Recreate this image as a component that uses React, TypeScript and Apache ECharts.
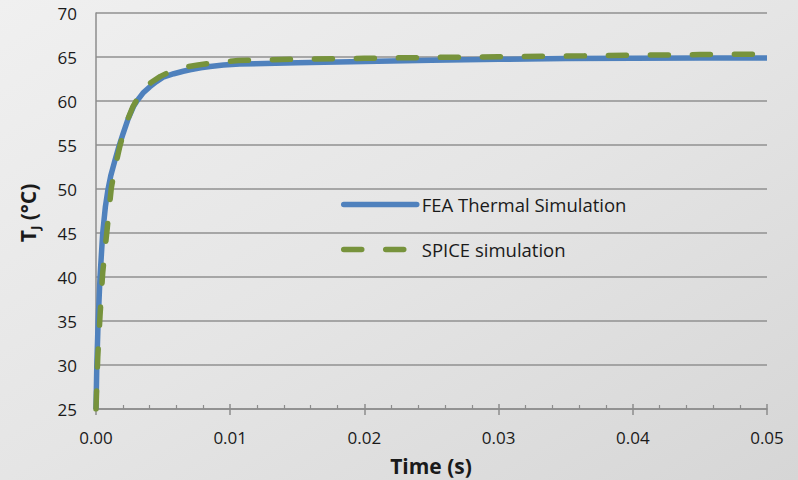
import React, { useEffect, useRef } from "react";
import * as echarts from "echarts";

const feaTime = [0, 0.00006, 0.00016, 0.0003, 0.0005, 0.0007, 0.0009, 0.0011, 0.0014, 0.0017, 0.002, 0.0024, 0.0028, 0.0031, 0.0035, 0.004, 0.0045, 0.005, 0.0058, 0.0065, 0.007, 0.0078, 0.0085, 0.0095, 0.0107, 0.015, 0.02, 0.025, 0.03, 0.035, 0.04, 0.045, 0.05];
const feaTemp = [25, 30, 35, 40, 45, 48, 50, 51.5, 53.2, 54.8, 56.2, 58.0, 59.4, 60.1, 60.9, 61.6, 62.2, 62.7, 63.1, 63.38, 63.55, 63.78, 63.93, 64.08, 64.2, 64.35, 64.5, 64.62, 64.74, 64.82, 64.86, 64.88, 64.9];

const spiceTime = [0, 0.00013, 0.0003, 0.0005, 0.00082, 0.00114, 0.0014, 0.00177, 0.0022, 0.00276, 0.0035, 0.0041, 0.0048, 0.0054, 0.006, 0.0068, 0.0076, 0.009, 0.0106, 0.015, 0.02, 0.025, 0.03, 0.035, 0.04, 0.045, 0.05];
const spiceTemp = [25, 30.9, 35.6, 40.5, 45.3, 50.1, 52.3, 54.8, 57.3, 59.4, 61.3, 62.1, 62.8, 63.25, 63.6, 63.9, 64.1, 64.4, 64.6, 64.75, 64.85, 64.95, 65.03, 65.1, 65.2, 65.27, 65.33];

const seriesNames = ["FEA Thermal Simulation", "SPICE simulation"];
const xTitle = "Time (s)";

const FONT = "'Open Sans', 'Noto Sans', sans-serif";
const TEXT = "#1a1a1a";
const BLUE = "#4f81bd";
const GREEN = "#77933c";

export default function App() {
  const ref = useRef<HTMLDivElement>(null);
  useEffect(() => {
    if (!ref.current) return;
    const chart = echarts.init(ref.current, undefined, { renderer: "svg" });
    const fea = feaTime.map((t, i) => [t, feaTemp[i]]);
    const spice = spiceTime.map((t, i) => [t, spiceTemp[i]]);
    const xCommon = {
      type: "value" as const,
      min: 0,
      max: 0.05,
      interval: 0.01,
    };
    chart.setOption({
      animation: false,
      backgroundColor: new echarts.graphic.LinearGradient(0, 0, 1, 1, [
        { offset: 0, color: "#f0f0f0" },
        { offset: 0.5, color: "#e5e5e5" },
        { offset: 1, color: "#d6d6d6" },
      ]),
      textStyle: { fontFamily: FONT },
      grid: { left: 96, right: 31, top: 13, bottom: 71, containLabel: false },
      xAxis: [
        {
          ...xCommon,
          position: "bottom",
          axisLine: { show: true, lineStyle: { color: "#8c8c8c", width: 1.5 } },
          axisTick: { show: true, inside: true, length: 5, lineStyle: { color: "#8c8c8c", width: 1.5 } },
          minorTick: { show: true, splitNumber: 5, length: 4, lineStyle: { color: "#8c8c8c", width: 1.2 } },
          splitLine: { show: false },
          axisLabel: {
            margin: 20,
            fontSize: 17,
            color: TEXT,
            fontFamily: FONT,
            formatter: (v: number) => v.toFixed(2),
          },
        },
        {
          ...xCommon,
          position: "bottom",
          offset: 0,
          axisLine: { show: false },
          axisTick: { show: true, inside: false, length: 6, lineStyle: { color: "#8c8c8c", width: 1.5 } },
          axisLabel: { show: false },
          splitLine: { show: false },
        },
      ],
      yAxis: {
        type: "value",
        min: 25,
        max: 70,
        interval: 5,
        axisLine: { show: true, lineStyle: { color: "#8c8c8c", width: 1.5 } },
        axisTick: { show: false },
        splitLine: { show: true, lineStyle: { color: "#909090", width: 1.5 } },
        axisLabel: { margin: 19, fontSize: 17, color: TEXT, fontFamily: FONT },
      },
      legend: {
        orient: "vertical",
        left: 336,
        top: 190,
        itemWidth: 73,
        itemHeight: 14,
        itemGap: 26,
        itemStyle: { opacity: 0 },
        lineStyle: { width: 5.5, cap: "round" },
        textStyle: { fontSize: 18.5, color: TEXT, fontFamily: FONT },
        data: seriesNames,
      },
      graphic: [
        {
          type: "text",
          x: 28,
          y: 213,
          rotation: Math.PI / 2,
          style: {
            text: "{a|T}{b|J}{a| (°C)}",
            align: "center",
            verticalAlign: "middle",
            fill: TEXT,
            rich: {
              a: { fontSize: 21, fontWeight: "bold", fontFamily: FONT, fill: TEXT },
              b: { fontSize: 13, fontWeight: "bold", fontFamily: FONT, fill: TEXT, padding: [13, 0, 0, 0] },
            },
          },
        },
        {
          type: "text",
          x: 431,
          y: 466,
          style: {
            text: xTitle,
            align: "center",
            verticalAlign: "middle",
            fontSize: 21,
            fontWeight: "bold",
            fontFamily: FONT,
            fill: TEXT,
          },
        },
      ],
      series: [
        {
          name: seriesNames[0],
          type: "line",
          data: fea,
          showSymbol: false,
          symbol: "none",
          smooth: false,
          color: BLUE,
          lineStyle: { color: BLUE, width: 5.5, join: "round" },
        },
        {
          name: seriesNames[1],
          type: "line",
          data: spice,
          showSymbol: false,
          symbol: "none",
          smooth: false,
          color: GREEN,
          lineStyle: { color: GREEN, width: 5.5, type: [18, 24], cap: "round", join: "round" },
        },
      ],
    });
    return () => chart.dispose();
  }, []);
  return (
    <div
      ref={ref}
      style={{ position: "absolute", left: 0, top: 0, width: 798, height: 480 }}
    />
  );
}
